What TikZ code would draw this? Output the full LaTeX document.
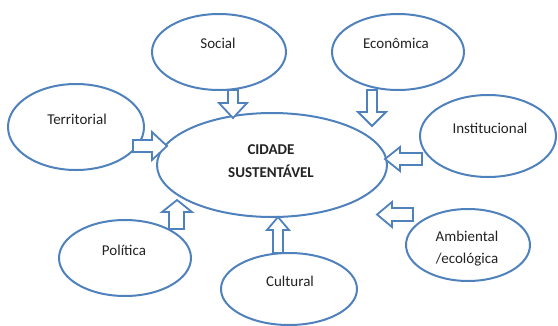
\documentclass[tikz,border=0pt]{standalone}
\usepackage{fontspec}
\setmainfont{Carlito}
\usetikzlibrary{shapes.geometric}
\definecolor{wblue}{RGB}{79,129,189}
\definecolor{wtext}{RGB}{35,35,35}
\tikzset{
  oval/.style={ellipse, draw=wblue, line width=2pt, fill=white, inner sep=0pt},
  lbl/.style={text=wtext, font=\fontsize{15}{22}\selectfont, inner sep=0pt, align=center},
  blockarrow/.style={draw=wblue, line width=1.8pt, fill=white, line join=miter},
}
\begin{document}
\begin{tikzpicture}[x=1pt,y=-1pt]
\useasboundingbox (0,0) rectangle (558,325);
% ellipses
\node[oval, minimum width=230pt, minimum height=104pt] (cidade) at (272,165) {};
\node[oval, minimum width=134pt, minimum height=76pt] (social) at (219,52) {};
\node[oval, minimum width=132pt, minimum height=76pt] (economica) at (398,52) {};
\node[oval, minimum width=136pt, minimum height=82pt] (institucional) at (488,136) {};
\node[oval, minimum width=136pt, minimum height=86pt] (territorial) at (76,127) {};
\node[oval, minimum width=132pt, minimum height=76pt] (politica) at (125,258) {};
\node[oval, minimum width=136pt, minimum height=72pt] (cultural) at (289,289) {};
\node[oval, minimum width=124pt, minimum height=72pt] (ambiental) at (468,245) {};
% labels
\node[lbl, font=\fontsize{15}{23}\selectfont\bfseries] (cidadet) at (271,161) {CIDADE\\SUSTENTÁVEL};
\node[lbl] (socialt) at (218,43) {Social};
\node[lbl] (economicat) at (396,43) {Econômica};
\node[lbl] (institucionalt) at (490,128) {Institucional};
\node[lbl] (territorialt) at (77,119) {Territorial};
\node[lbl] (politicat) at (124,250) {Política};
\node[lbl] (culturalt) at (290,281) {Cultural};
\node[lbl] (ambientalt) at (467,249) {Ambiental\\/ecológica};
% block arrows
\draw[blockarrow] (228,90) -- (238,90) -- (238,103) -- (247,103) -- (233,118) -- (219,103) -- (228,103) -- cycle;
\draw[blockarrow] (367,90) -- (377,90) -- (377,112) -- (386,112) -- (372,126) -- (358,112) -- (367,112) -- cycle;
\draw[blockarrow] (133,140) -- (152,140) -- (152,132) -- (167,146) -- (152,160) -- (152,152) -- (133,152) -- cycle;
\draw[blockarrow] (422,153) -- (400,153) -- (400,147) -- (385,159) -- (400,171) -- (400,165) -- (422,165) -- cycle;
\draw[blockarrow] (413,208) -- (392,208) -- (392,202) -- (377,214.5) -- (392,227) -- (392,221) -- (413,221) -- cycle;
\draw[blockarrow] (169,229) -- (169,212) -- (162,212) -- (177,200) -- (192,212) -- (184,212) -- (184,229) -- cycle;
\draw[blockarrow] (273,253) -- (273,230) -- (267,230) -- (278,217) -- (289,230) -- (283,230) -- (283,253) -- cycle;
\end{tikzpicture}
\end{document}
